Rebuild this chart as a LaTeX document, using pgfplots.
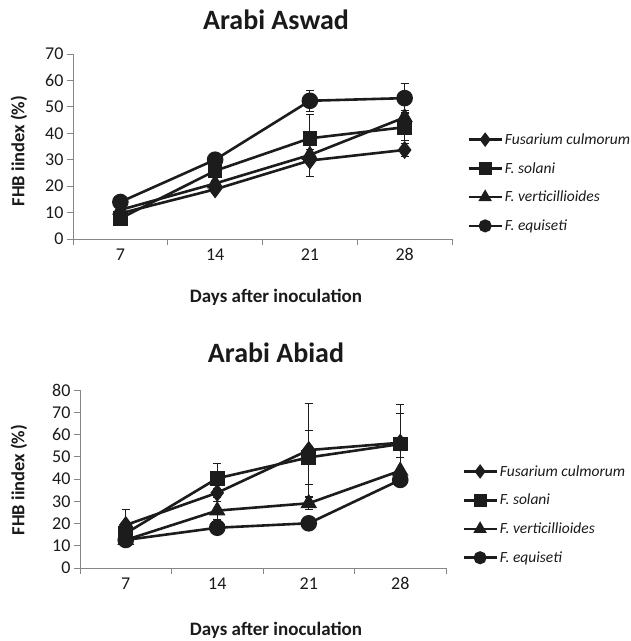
\documentclass[border=0pt]{standalone}
\usepackage{pgfplots}
\usepackage{pgfplotstable}
\pgfplotsset{compat=1.18}
\usepackage{fontspec}
\setmainfont{Carlito}
\definecolor{txt}{HTML}{1A1A1A}
\definecolor{axc}{HTML}{868686}
\definecolor{ln}{HTML}{1C1C1C}

% Arabi Aswad
\pgfplotstableread{
x y e
0 9.7 1
1 18.8 1
2 29.7 6
3 33.7 2.5
}\AsCul
\pgfplotstableread{
x y e
0 7.8 0.5
1 25.8 1
2 38.1 9
3 42.3 5
}\AsSol
\pgfplotstableread{
x y e
0 11.0 1
1 21.0 1
2 31.8 2
3 46.0 2.5
}\AsVer
\pgfplotstableread{
x y e
0 14.0 1
1 30.0 1
2 52.3 3.9
3 53.3 5.5
}\AsEqu
% Arabi Abiad
\pgfplotstableread{
x y e
0 19.3 7
1 33.8 2
2 53.0 21
3 56.3 13
}\AbCul
\pgfplotstableread{
x y e
0 15.6 3
1 40.3 6.7
2 49.7 12
3 55.7 18
}\AbSol
\pgfplotstableread{
x y e
0 12.6 2
1 25.8 4
2 29.1 2.7
3 43.7 6
}\AbVer
\pgfplotstableread{
x y e
0 12.6 3
1 18.1 3
2 20.1 2
3 39.6 1
}\AbEqu

\pgfplotsset{
  legend image code/.code={\draw[mark repeat=2, mark phase=2, #1, mark size=5.2pt] plot coordinates {(0pt,0pt) (16.5pt,0pt) (33pt,0pt)};},
  fhb/.style={
    scale only axis,
    anchor=south west,
    xmin=-0.5, xmax=3.5, ymin=0,
    axis x line*=bottom, axis y line*=left,
    axis line style={-, draw=axc, line width=0.8pt},
    xtick={0,1,2,3}, xticklabels={7,14,21,28},
    minor xtick={-0.5,0.5,1.5,2.5,3.5},
    major x tick style={draw=none},
    minor x tick style={draw=axc, line width=0.8pt},
    ytick style={draw=axc, line width=0.8pt},
    tick align=outside,
    major tick length=6pt, minor tick length=6pt,
    ticklabel style={font=\fontsize{18}{20}\selectfont, text=txt},
    /pgf/number format/assume math mode=true,
    legend style={draw=none, fill=none, font=\fontsize{15.5}{18}\selectfont\itshape, text=txt, anchor=west, row sep=12.5pt, inner sep=0pt},
    legend cell align=left,
    clip=false,
  },
  ser/.style={line width=2.6pt, color=ln, mark options={solid, fill=ln, draw=ln}},
  eb/.style={error bars/.cd, y dir=both, y explicit,
    error bar style={line width=1pt, color=ln},
    error mark options={rotate=90, mark size=4pt, line width=1pt, color=ln}},
}

\begin{document}
\begin{tikzpicture}[x=1pt,y=1pt]
\useasboundingbox (0pt,0pt) rectangle (631pt,641pt);

\begin{axis}[fhb, at={(73pt,402pt)}, width=379pt, height=185pt, ymax=70, ytick={0,10,...,70},
  legend style={at={(1.04,0.304)}}]
\addplot[ser, mark=diamond*, mark size=7pt, eb] table[x=x, y=y, y error=e] {\AsCul};
\addplot[ser, mark=square*, mark size=6pt, eb] table[x=x, y=y, y error=e] {\AsSol};
\addplot[ser, mark=triangle*, mark size=7pt, eb] table[x=x, y=y, y error=e] {\AsVer};
\addplot[ser, mark=*, mark size=7pt, eb] table[x=x, y=y, y error=e] {\AsEqu};
\legend{Fusarium culmorum, F. solani, F. verticillioides, F. equiseti}
\end{axis}

\begin{axis}[fhb, at={(80pt,73pt)}, width=366pt, height=178pt, ymax=80, ytick={0,10,...,80},
  legend style={at={(1.044,0.30)}}]
\addplot[ser, mark=diamond*, mark size=7pt, eb] table[x=x, y=y, y error=e] {\AbCul};
\addplot[ser, mark=square*, mark size=6pt, eb] table[x=x, y=y, y error=e] {\AbSol};
\addplot[ser, mark=triangle*, mark size=7pt, eb] table[x=x, y=y, y error=e] {\AbVer};
\addplot[ser, mark=*, mark size=7pt, eb] table[x=x, y=y, y error=e] {\AbEqu};
\legend{Fusarium culmorum, F. solani, F. verticillioides, F. equiseti}
\end{axis}

\node[font=\fontsize{28}{32}\selectfont\bfseries, text=txt] at (276pt,621pt) {Arabi Aswad};
\node[font=\fontsize{28}{32}\selectfont\bfseries, text=txt] at (276pt,288pt) {Arabi Abiad};
\node[font=\fontsize{19}{22}\selectfont\bfseries, text=txt] at (276pt,343.5pt) {Days after inoculation};
\node[font=\fontsize{19}{22}\selectfont\bfseries, text=txt] at (276pt,11pt) {Days after inoculation};
\node[font=\fontsize{18.5}{22}\selectfont\bfseries, text=txt, rotate=90] at (19pt,490pt) {FHB iindex (\%)};
\node[font=\fontsize{18.5}{22}\selectfont\bfseries, text=txt, rotate=90] at (19pt,161pt) {FHB iindex (\%)};
\end{tikzpicture}
\end{document}
